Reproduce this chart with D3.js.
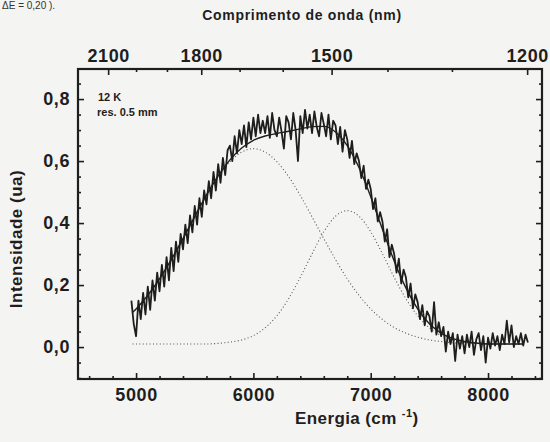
<!DOCTYPE html>
<html>
<head>
<script src="https://d3js.org/d3.v7.min.js"></script>
<style>
  body { margin: 0; background: #f4f4f2; }
  svg { display: block; font-family: "Liberation Sans", Arial, sans-serif; font-weight: bold; }
</style>
</head>
<body>
<script>
// energy ticks (cm-1) on the bottom, wavelength ticks (nm) on top
const energyTicks = [5000, 6000, 7000, 8000]
const energyMinor = [4600, 4800, 5200, 5400, 5600, 5800, 6200, 6400, 6600, 6800, 7200, 7400, 7600, 7800, 8200, 8400]
const waveTicks = [2100, 1800, 1500, 1200]
const waveMinor = [2000, 1900, 1700, 1600, 1400, 1300]
const intensityTicks = [0, 0.2, 0.4, 0.6, 0.8]
const intensityMinor = [-0.1, -0.05, 0.05, 0.1, 0.15, 0.25, 0.3, 0.35, 0.45, 0.5, 0.55, 0.65, 0.7, 0.75, 0.85]

// measured spectrum, one value every 20 cm-1 from 4960 to 8340
const spectrumEnergy = d3.range(4960, 8341, 20)
const spectrum = [
  0.150, 0.075, 0.035, 0.150, 0.090, 0.175, 0.105,
  0.195, 0.120, 0.215, 0.150, 0.240,
  0.180, 0.265, 0.195, 0.290, 0.215,
  0.320, 0.245, 0.340, 0.275, 0.365,
  0.315, 0.395, 0.335, 0.425, 0.370,
  0.455, 0.395, 0.480, 0.420, 0.505,
  0.460, 0.535, 0.480, 0.565, 0.505,
  0.590, 0.530, 0.610, 0.555, 0.635,
  0.650, 0.600, 0.680, 0.625, 0.700,
  0.655, 0.715, 0.645, 0.725, 0.670,
  0.740, 0.680, 0.750, 0.690, 0.730,
  0.690, 0.745, 0.675, 0.755, 0.700,
  0.680, 0.740, 0.695, 0.640, 0.745,
  0.725, 0.670, 0.755, 0.700, 0.600,
  0.745, 0.690, 0.765, 0.705, 0.750,
  0.690, 0.760, 0.710, 0.680, 0.755,
  0.720, 0.680, 0.750, 0.670, 0.730,
  0.715, 0.655, 0.710, 0.630, 0.700,
  0.670, 0.610, 0.665, 0.590, 0.625,
  0.600, 0.545, 0.585, 0.510, 0.540,
  0.510, 0.445, 0.480, 0.405, 0.435,
  0.405, 0.340, 0.380, 0.290, 0.330,
  0.300, 0.240, 0.285, 0.205, 0.250,
  0.225, 0.160, 0.205, 0.125, 0.170,
  0.145, 0.090, 0.135, 0.070, 0.115,
  0.100, 0.050, 0.145, 0.040, 0.080,
  0.035, 0.065, -0.015, 0.050, 0.010,
  0.045, -0.045, 0.040, -0.005, 0.035,
  -0.020, 0.040, 0.000, 0.050, -0.025,
  0.025, 0.045, -0.010, 0.035, -0.050,
  0.030, -0.005, 0.045, 0.005, 0.035,
  -0.010, 0.040, 0.010, 0.085, 0.015,
  0.070, 0.000, 0.035, 0.010, 0.045,
  0.005, 0.040, 0.015
]

// fitted curve and its two components
const fitEnergy = [4970, 5000, 5100, 5200, 5300, 5400, 5500, 5600, 5700, 5800, 5900, 6000, 6100, 6200, 6300, 6400, 6500,
  6600, 6700, 6800, 6900, 7000, 7100, 7200, 7300, 7400, 7500, 7600, 7700, 7800, 7900, 8000, 8100, 8200, 8300]
const fitTotal = [0.112, 0.123, 0.167, 0.220, 0.282, 0.350, 0.421, 0.490, 0.552, 0.604, 0.642, 0.667, 0.681, 0.689, 0.696, 0.704, 0.711,
  0.712, 0.694, 0.650, 0.579, 0.485, 0.380, 0.278, 0.191, 0.123, 0.075, 0.045, 0.027, 0.018, 0.013, 0.010, 0.010, 0.010, 0.010]
const fitPeak1 = [0.112, 0.123, 0.167, 0.220, 0.282, 0.350, 0.420, 0.489, 0.550, 0.598, 0.629, 0.640, 0.629, 0.598, 0.550, 0.489, 0.420,
  0.350, 0.282, 0.220, 0.167, 0.123, 0.089, 0.063, 0.045, 0.032, 0.023, 0.018, 0.014, 0.012, 0.011, 0.010, 0.010, 0.010, 0.010]
const fitPeak2 = [0.010, 0.010, 0.010, 0.010, 0.010, 0.010, 0.010, 0.010, 0.012, 0.016, 0.023, 0.037, 0.062, 0.101, 0.156, 0.225, 0.301,
  0.372, 0.422, 0.440, 0.422, 0.372, 0.301, 0.225, 0.156, 0.101, 0.062, 0.037, 0.023, 0.016, 0.012, 0.010, 0.010, 0.010, 0.010]

const w = 550, h = 442
const ink = '#1e1e1e'

const svg = d3.select('body').append('svg').attr('width', w).attr('height', h)

const x = d3.scaleLinear().domain([4505, 8460]).range([78, 542])
const y = d3.scaleLinear().domain([-0.103, 0.897]).range([379, 69])

const commaFmt = d => d3.format('.1f')(d).replace('.', ',')

function styleAxis(g, size) {
  g.select('.domain').remove()
  g.attr('font-family', null).attr('font-size', size)
  g.selectAll('line').attr('stroke', ink).attr('stroke-width', 1.6)
  g.selectAll('text').attr('fill', ink).attr('letter-spacing', 0.6)
}

// bottom
svg.append('g').attr('transform', 'translate(0,379)')
  .call(d3.axisBottom(x).tickValues(energyTicks).tickSize(-6).tickPadding(9).tickFormat(d3.format('d')))
  .call(g => styleAxis(g, 18))
svg.append('g').attr('transform', 'translate(0,379)')
  .call(d3.axisBottom(x).tickValues(energyMinor).tickSize(-3).tickFormat(''))
  .call(g => styleAxis(g, 18))

// top (wavelength)
svg.append('g').attr('transform', 'translate(0,69)')
  .call(d3.axisTop(x).tickValues(waveTicks.map(l => 1e7 / l)).tickSize(-6).tickPadding(7)
    .tickFormat(e => Math.round(1e7 / e)))
  .call(g => styleAxis(g, 18))
svg.append('g').attr('transform', 'translate(0,69)')
  .call(d3.axisTop(x).tickValues(waveMinor.map(l => 1e7 / l)).tickSize(-3).tickFormat(''))
  .call(g => styleAxis(g, 18))

// left
svg.append('g').attr('transform', 'translate(78,0)')
  .call(d3.axisLeft(y).tickValues(intensityTicks).tickSize(-6).tickPadding(8).tickFormat(commaFmt))
  .call(g => styleAxis(g, 18))
svg.append('g').attr('transform', 'translate(78,0)')
  .call(d3.axisLeft(y).tickValues(intensityMinor).tickSize(-3).tickFormat(''))
  .call(g => styleAxis(g, 18))

// right
svg.append('g').attr('transform', 'translate(542,0)')
  .call(d3.axisRight(y).tickValues(intensityTicks).tickSize(-6).tickFormat(''))
  .call(g => styleAxis(g, 18))
svg.append('g').attr('transform', 'translate(542,0)')
  .call(d3.axisRight(y).tickValues(intensityMinor).tickSize(-3).tickFormat(''))
  .call(g => styleAxis(g, 18))

// frame
svg.append('rect')
  .attr('x', 78).attr('y', 69).attr('width', 464).attr('height', 310)
  .attr('fill', 'none').attr('stroke', ink).attr('stroke-width', 2.2)

// curves
const line = d3.line().x(d => x(d[0])).y(d => y(d[1]))
const smooth = d3.line().x(d => x(d[0])).y(d => y(d[1])).curve(d3.curveMonotoneX)

;[fitPeak1, fitPeak2].forEach(vals => {
  svg.append('path')
    .datum(fitEnergy.map((e, i) => [e, vals[i]]))
    .attr('d', smooth)
    .attr('fill', 'none').attr('stroke', '#555')
    .attr('stroke-width', 1.1).attr('stroke-dasharray', '1,2.4')
})

svg.append('path')
  .datum(spectrumEnergy.map((e, i) => [e, spectrum[i]]))
  .attr('d', line)
  .attr('fill', 'none').attr('stroke', ink).attr('stroke-width', 1.8)
  .attr('stroke-linejoin', 'round')

svg.append('path')
  .datum(fitEnergy.map((e, i) => [e, fitTotal[i]]))
  .attr('d', smooth)
  .attr('fill', 'none').attr('stroke', ink).attr('stroke-width', 1.4)

// labels
svg.append('text').attr('x', 302).attr('y', 20).attr('text-anchor', 'middle')
  .attr('font-size', 14).attr('letter-spacing', 0.7).attr('fill', ink)
  .text('Comprimento de onda (nm)')

const xt = svg.append('text').attr('x', 295).attr('y', 424)
  .attr('font-size', 17).attr('letter-spacing', 0.4).attr('fill', ink)
xt.append('tspan').text('Energia (cm ')
xt.append('tspan').attr('dy', -7).attr('font-size', 11).text('-1')
xt.append('tspan').attr('dy', 7).text(')')

svg.append('text').attr('transform', 'translate(22,239) rotate(-90)').attr('text-anchor', 'middle')
  .attr('font-size', 17).attr('letter-spacing', 0.5).attr('fill', ink)
  .text('Intensidade (ua)')

svg.append('text').attr('x', 98).attr('y', 101).attr('font-size', 11).attr('fill', ink).text('12 K')
svg.append('text').attr('x', 97).attr('y', 116).attr('font-size', 11).attr('fill', ink).text('res. 0.5 mm')

// last line of the page text above the figure
svg.append('text').attr('x', 2).attr('y', 9).attr('font-size', 10).attr('font-weight', 'normal')
  .attr('fill', '#333').text('ΔE = 0,20 ).')
</script>
</body>
</html>
